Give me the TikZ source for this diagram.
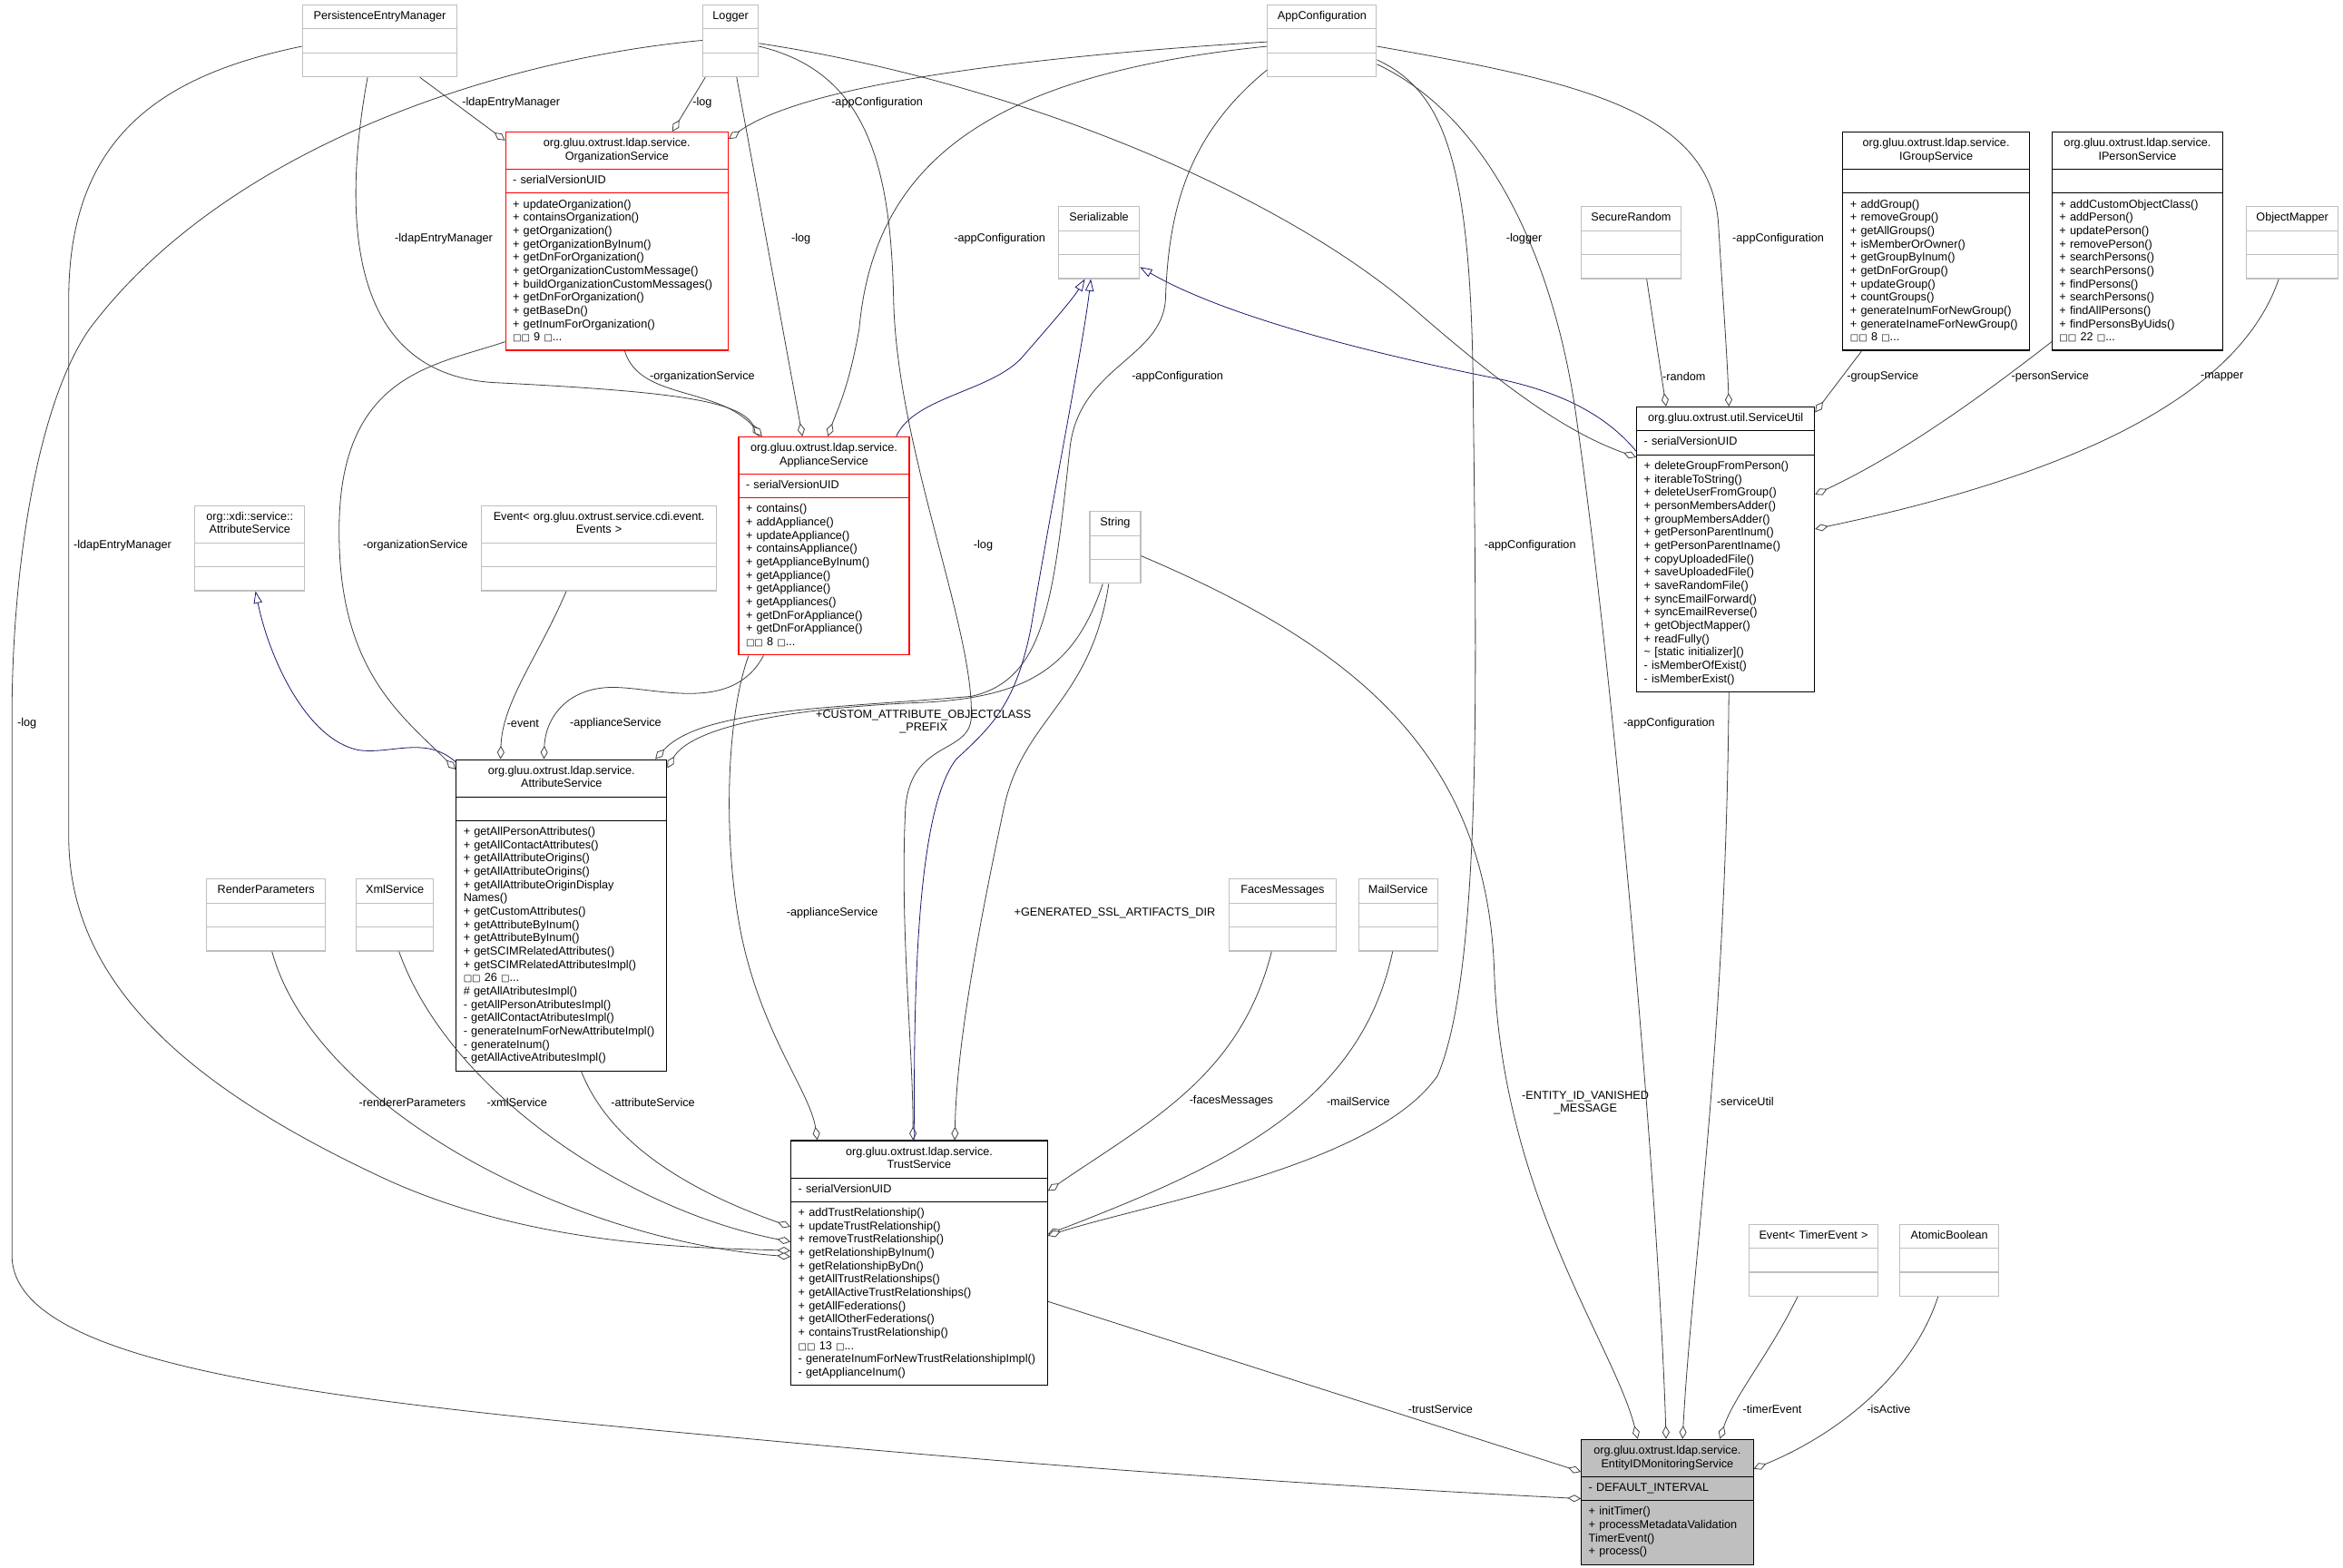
\documentclass[tikz,border=0pt]{standalone}
\usepackage{fontspec}
\setmainfont{Liberation Sans}
\newfontfamily\boxfont{DejaVu Sans}
\usetikzlibrary{shapes.multipart,arrows.meta,calc}
\definecolor{boxgray}{HTML}{BFBFBF}
\definecolor{edgegray}{HTML}{404040}
\definecolor{inhblue}{HTML}{191970}
\definecolor{mainfill}{HTML}{BFBFBF}
\newcommand{\moreitems}[1]{{\boxfont\fontsize{7.5}{11}\selectfont □□} #1 {\boxfont\fontsize{7.5}{11}\selectfont □}...}
\newcommand{\clstitle}[1]{\centering\strut #1\strut\par}
\tikzset{
  umlbase/.style={rectangle split, rectangle split parts=3, anchor=north west,
    inner xsep=6pt, inner ysep=4pt, align=left, line width=0.8pt,
    font=\fontsize{9.5}{11}\selectfont},
  graycls/.style={umlbase, draw=boxgray},
  redcls/.style={umlbase, draw=red},
  blackcls/.style={umlbase, draw=black},
  maincls/.style={umlbase, draw=black, fill=mainfill},
  lbl/.style={font=\fontsize{9.5}{11}\selectfont, inner sep=0pt, align=center},
  agg/.style={draw=edgegray, line width=0.6pt, -{Diamond[fill=white, length=11pt, width=6pt]}},
  inh/.style={draw=inhblue, line width=0.6pt, -{Triangle[fill=white, length=10pt, width=7pt]}}
}
\begin{document}
\begin{tikzpicture}[x=1.235pt,y=-1.235pt]
  \fill[white] (0,0) rectangle (1568,1049);
  \useasboundingbox (0,0) rectangle (1568,1049);

  \node[graycls, text width=116pt] (pem) at (202,3) {\clstitle{PersistenceEntryManager} \nodepart{second}\strut \nodepart{third}\strut};
  \node[graycls, text width=34pt] (logger) at (470,3) {\clstitle{Logger} \nodepart{second}\strut \nodepart{third}\strut};
  \node[graycls, text width=78pt] (appcfg) at (848,3) {\clstitle{AppConfiguration} \nodepart{second}\strut \nodepart{third}\strut};
  \node[redcls, text width=172pt] (org) at (338,88) {\clstitle{org.gluu.oxtrust.ldap.service.\\OrganizationService}
    \nodepart{second}\strut - serialVersionUID\strut
    \nodepart{third}\strut + updateOrganization()\\+ containsOrganization()\\+ getOrganization()\\+ getOrganizationByInum()\\+ getDnForOrganization()\\+ getOrganizationCustomMessage()\\+ buildOrganizationCustomMessages()\\+ getDnForOrganization()\\+ getBaseDn()\\+ getInumForOrganization()\\\moreitems{9}\strut};
  \node[graycls, text width=55pt] (serial) at (708,138) {\clstitle{Serializable} \nodepart{second}\strut \nodepart{third}\strut};
  \node[graycls, text width=70pt] (secrand) at (1058,138) {\clstitle{SecureRandom} \nodepart{second}\strut \nodepart{third}\strut};
  \node[blackcls, text width=142pt] (igroup) at (1233,88) {\clstitle{org.gluu.oxtrust.ldap.service.\\IGroupService}
    \nodepart{second}\strut
    \nodepart{third}\strut + addGroup()\\+ removeGroup()\\+ getAllGroups()\\+ isMemberOrOwner()\\+ getGroupByInum()\\+ getDnForGroup()\\+ updateGroup()\\+ countGroups()\\+ generateInumForNewGroup()\\+ generateInameForNewGroup()\\\moreitems{8}\strut};
  \node[blackcls, text width=129pt] (iperson) at (1373,88) {\clstitle{org.gluu.oxtrust.ldap.service.\\IPersonService}
    \nodepart{second}\strut
    \nodepart{third}\strut + addCustomObjectClass()\\+ addPerson()\\+ updatePerson()\\+ removePerson()\\+ searchPersons()\\+ searchPersons()\\+ findPersons()\\+ searchPersons()\\+ findAllPersons()\\+ findPersonsByUids()\\\moreitems{22}\strut};
  \node[graycls, text width=64pt] (objmap) at (1503,138) {\clstitle{ObjectMapper} \nodepart{second}\strut \nodepart{third}\strut};
  \node[redcls, text width=129pt] (appl) at (494,292) {\clstitle{org.gluu.oxtrust.ldap.service.\\ApplianceService}
    \nodepart{second}\strut - serialVersionUID\strut
    \nodepart{third}\strut + contains()\\+ addAppliance()\\+ updateAppliance()\\+ containsAppliance()\\+ getApplianceByInum()\\+ getAppliance()\\+ getAppliance()\\+ getAppliances()\\+ getDnForAppliance()\\+ getDnForAppliance()\\\moreitems{8}\strut};
  \node[blackcls, text width=135pt] (svcutil) at (1095,272) {\clstitle{org.gluu.oxtrust.util.ServiceUtil}
    \nodepart{second}\strut - serialVersionUID\strut
    \nodepart{third}\strut + deleteGroupFromPerson()\\+ iterableToString()\\+ deleteUserFromGroup()\\+ personMembersAdder()\\+ groupMembersAdder()\\+ getPersonParentInum()\\+ getPersonParentIname()\\+ copyUploadedFile()\\+ saveUploadedFile()\\+ saveRandomFile()\\+ syncEmailForward()\\+ syncEmailReverse()\\+ getObjectMapper()\\+ readFully()\\\textasciitilde{} [static initializer]()\\- isMemberOfExist()\\- isMemberExist()\strut};
  \node[graycls, text width=79pt] (xdi) at (130,338) {\clstitle{org::xdi::service::\\AttributeService} \nodepart{second}\strut \nodepart{third}\strut};
  \node[graycls, text width=182pt] (event) at (322,338) {\clstitle{Event< org.gluu.oxtrust.service.cdi.event.\\Events >} \nodepart{second}\strut \nodepart{third}\strut};
  \node[graycls, text width=30pt] (string) at (729,342) {\clstitle{String} \nodepart{second}\strut \nodepart{third}\strut};
  \node[blackcls, text width=162pt] (attrsvc) at (305,508) {\clstitle{org.gluu.oxtrust.ldap.service.\\AttributeService}
    \nodepart{second}\strut
    \nodepart{third}\strut + getAllPersonAttributes()\\+ getAllContactAttributes()\\+ getAllAttributeOrigins()\\+ getAllAttributeOrigins()\\+ getAllAttributeOriginDisplay\\Names()\\+ getCustomAttributes()\\+ getAttributeByInum()\\+ getAttributeByInum()\\+ getSCIMRelatedAttributes()\\+ getSCIMRelatedAttributesImpl()\\\moreitems{26}\\\# getAllAtributesImpl()\\- getAllPersonAtributesImpl()\\- getAllContactAtributesImpl()\\- generateInumForNewAttributeImpl()\\- generateInum()\\- getAllActiveAtributesImpl()\strut};
  \node[graycls, text width=86pt] (rendp) at (138,588) {\clstitle{RenderParameters} \nodepart{second}\strut \nodepart{third}\strut};
  \node[graycls, text width=52pt] (xmlsvc) at (238,588) {\clstitle{XmlService} \nodepart{second}\strut \nodepart{third}\strut};
  \node[graycls, text width=77pt] (faces) at (822,588) {\clstitle{FacesMessages} \nodepart{second}\strut \nodepart{third}\strut};
  \node[graycls, text width=53pt] (mail) at (909,588) {\clstitle{MailService} \nodepart{second}\strut \nodepart{third}\strut};
  \node[blackcls, text width=200pt] (trust) at (529,763) {\clstitle{org.gluu.oxtrust.ldap.service.\\TrustService}
    \nodepart{second}\strut - serialVersionUID\strut
    \nodepart{third}\strut + addTrustRelationship()\\+ updateTrustRelationship()\\+ removeTrustRelationship()\\+ getRelationshipByInum()\\+ getRelationshipByDn()\\+ getAllTrustRelationships()\\+ getAllActiveTrustRelationships()\\+ getAllFederations()\\+ getAllOtherFederations()\\+ containsTrustRelationship()\\\moreitems{13}\\- generateInumForNewTrustRelationshipImpl()\\- getApplianceInum()\strut};
  \node[graycls, text width=95pt] (timerev) at (1170,819) {\clstitle{Event< TimerEvent >} \nodepart{second}\strut \nodepart{third}\strut};
  \node[graycls, text width=70pt] (atomic) at (1271,819) {\clstitle{AtomicBoolean} \nodepart{second}\strut \nodepart{third}\strut};
  \node[maincls, text width=130pt] (entity) at (1058,963) {\clstitle{org.gluu.oxtrust.ldap.service.\\EntityIDMonitoringService}
    \nodepart{second}\strut - DEFAULT\_INTERVAL\strut
    \nodepart{third}\strut + initTimer()\\+ processMetadataValidation\\TimerEvent()\\+ process()\strut};

  \draw[agg] ($(pem.south west)+(79,0)$) -- ($(org.north west)+(0,6)$);
  \draw[agg] ($(logger.south west)+(2,0)$) -- ($(org.north west)+(112,0)$);
  \draw[agg] ($(appcfg.north west)+(0,25)$) .. controls (700,37) and (540,55) .. ($(org.north east)+(0,5)$);
  \draw[agg] ($(pem.south west)+(44,0)$) .. controls (228,150) and (235,250) .. (330,256) .. controls (450,262) and (495,268) .. ($(appl.north west)+(14,0)$);
  \draw[agg] ($(org.south west)+(80,0)$) .. controls (428,268) and (480,258) .. ($(appl.north west)+(16,0)$);
  \draw[agg] ($(logger.south west)+(23,0)$) -- ($(appl.north west)+(43,0)$);
  \draw[agg] ($(appcfg.north west)+(0,28)$) .. controls (660,50) and (585,110) .. (575,220) .. controls (568,260) and (560,275) .. ($(appl.north west)+(60,0)$);
  \draw[inh] ($(appl.north east)+(-9,0)$) .. controls (612,265) and (665,262) .. (685,238) .. controls (705,215) and (718,200) .. ($(serial.south west)+(18,0)$);
  \draw[inh] ($(svcutil.north west)+(0,30)$) .. controls (1075,278) and (1045,262) .. (1000,253) .. controls (920,237) and (820,212) .. ($(serial.south east)+(0,-8)$);
  \draw[agg] ($(logger.north east)+(0,26)$) .. controls (680,55) and (860,130) .. (950,210) .. controls (1010,262) and (1050,290) .. ($(svcutil.north west)+(0,34)$);
  \draw[agg] ($(appcfg.north east)+(0,28)$) .. controls (1060,55) and (1145,75) .. (1150,150) .. controls (1153,200) and (1156,240) .. ($(svcutil.north west)+(62,0)$);
  \draw[agg] ($(secrand.south west)+(44,0)$) -- ($(svcutil.north west)+(20,0)$);
  \draw[agg] ($(igroup.south west)+(13,0)$) -- ($(svcutil.north east)+(0,4)$);
  \draw[agg] ($(iperson.south west)+(0,-6)$) .. controls (1320,270) and (1270,305) .. ($(svcutil.north east)+(0,59)$);
  \draw[agg] ($(objmap.south west)+(22,0)$) .. controls (1500,260) and (1400,315) .. ($(svcutil.north east)+(0,82)$);
  \draw[inh] ($(attrsvc.north west)+(0,2)$) .. controls (285,492) and (262,505) .. (240,502) .. controls (205,495) and (180,440) .. ($(xdi.south west)+(41,0)$);
  \draw[agg] ($(org.south west)+(0,-6)$) .. controls (290,245) and (225,250) .. (227,360) .. controls (228,450) and (270,480) .. ($(attrsvc.north west)+(0,7)$);
  \draw[agg] ($(event.south west)+(57,0)$) .. controls (360,440) and (336,470) .. ($(attrsvc.north west)+(30,0)$);
  \draw[agg] ($(appl.south west)+(17,0)$) .. controls (490,478) and (440,460) .. (410,460) .. controls (380,460) and (365,480) .. ($(attrsvc.north west)+(59,0)$);
  \draw[agg] ($(string.south west)+(9,0)$) .. controls (720,445) and (690,466) .. (620,470) .. controls (520,474) and (462,488) .. ($(attrsvc.north east)+(0,6)$);
  \draw[agg] ($(appcfg.south west)+(0,-5)$) .. controls (795,90) and (782,140) .. (780,200) .. controls (778,240) and (722,245) .. (716,300) .. controls (705,400) and (700,455) .. (650,466) .. controls (560,474) and (470,474) .. ($(attrsvc.north east)+(-8,0)$);
  \draw[agg] ($(appl.south west)+(7,0)$) .. controls (486,480) and (484,560) .. (495,620) .. controls (508,690) and (542,730) .. ($(trust.north west)+(18,0)$);
  \draw[agg] ($(logger.north east)+(0,28)$) .. controls (580,48) and (596,110) .. (598,200) .. controls (600,300) and (652,420) .. (650,480) .. controls (649,505) and (610,495) .. (606,540) .. controls (602,620) and (611,700) .. ($(trust.north west)+(82,0)$);
  \draw[inh] ($(trust.north west)+(83,0)$) .. controls (611,650) and (615,540) .. (640,508) .. controls (665,485) and (680,470) .. (690,420) .. controls (705,330) and (725,230) .. ($(serial.south west)+(22,0)$);
  \draw[agg] ($(string.south west)+(13,0)$) .. controls (730,470) and (685,480) .. (672,540) .. controls (655,620) and (640,700) .. ($(trust.north west)+(110,0)$);
  \draw[agg] ($(attrsvc.south west)+(84,0)$) .. controls (410,770) and (470,800) .. ($(trust.north west)+(0,58)$);
  \draw[agg] ($(xmlsvc.south west)+(29,0)$) .. controls (300,730) and (420,810) .. ($(trust.north west)+(0,68)$);
  \draw[agg] ($(pem.north west)+(0,28)$) .. controls (110,50) and (46,90) .. (46,200) -- (46,560) .. controls (46,660) and (130,730) .. (260,790) .. controls (360,835) and (470,835) .. ($(trust.north west)+(0,74)$);
  \draw[agg] ($(rendp.south west)+(44,0)$) .. controls (210,740) and (380,830) .. ($(trust.north west)+(0,78)$);
  \draw[agg] ($(faces.south west)+(29,0)$) .. controls (830,720) and (770,750) .. ($(trust.north east)+(0,34)$);
  \draw[agg] ($(mail.south west)+(23,0)$) .. controls (910,740) and (820,780) .. ($(trust.north east)+(0,63)$);
  \draw[agg] ($(appcfg.north east)+(0,37)$) .. controls (968,62) and (985,110) .. (986,273) .. controls (988,450) and (992,650) .. (962,720) .. controls (920,780) and (770,805) .. ($(trust.north east)+(0,64)$);
  \draw[agg] ($(trust.north east)+(0,108)$) -- ($(entity.north west)+(0,22)$);
  \draw[agg] ($(logger.north west)+(0,24)$) .. controls (330,40) and (150,100) .. (60,220) .. controls (25,270) and (8,380) .. (8,480) -- (8,840) .. controls (8,920) and (250,940) .. (546,967) .. controls (800,990) and (1000,1000) .. ($(entity.north west)+(0,40)$);
  \draw[agg] ($(string.north east)+(0,30)$) .. controls (900,430) and (995,500) .. (1000,650) .. controls (1005,800) and (1080,900) .. ($(entity.north west)+(38,0)$);
  \draw[agg] ($(appcfg.north east)+(0,40)$) .. controls (1000,80) and (1040,180) .. (1054,273) .. controls (1080,450) and (1110,800) .. ($(entity.north west)+(57,0)$);
  \draw[agg] ($(svcutil.south west)+(62,0)$) .. controls (1155,700) and (1132,850) .. ($(entity.north west)+(68,0)$);
  \draw[agg] ($(timerev.south west)+(33,0)$) .. controls (1185,905) and (1160,935) .. ($(entity.north west)+(93,0)$);
  \draw[agg] ($(atomic.south west)+(26,0)$) .. controls (1280,920) and (1230,960) .. ($(entity.north east)+(0,20)$);

  \node[lbl] (lpemorg) at (342,69) {-ldapEntryManager};
  \node[lbl] (llogorg) at (470,69) {-log};
  \node[lbl] (lcfgorg) at (587,69) {-appConfiguration};
  \node[lbl] (lpemappl) at (297,160) {-ldapEntryManager};
  \node[lbl] (llogappl) at (536,160) {-log};
  \node[lbl] (lcfgappl) at (669,160) {-appConfiguration};
  \node[lbl] (llogutil) at (1020,160) {-logger};
  \node[lbl] (lcfgutil) at (1190,160) {-appConfiguration};
  \node[lbl] (lorgappl) at (470,252) {-organizationService};
  \node[lbl] (lcfgattr) at (788,252) {-appConfiguration};
  \node[lbl] (lrandutil) at (1127,252) {-random};
  \node[lbl] (lgrputil) at (1260,252) {-groupService};
  \node[lbl] (lperutil) at (1372,252) {-personService};
  \node[lbl] (lmaputil) at (1487,252) {-mapper};
  \node[lbl] (lpemtrust) at (82,365) {-ldapEntryManager};
  \node[lbl] (lorgattr) at (278,365) {-organizationService};
  \node[lbl] (llogtrust) at (658,365) {-log};
  \node[lbl] (lcfgtrust) at (1024,365) {-appConfiguration};
  \node[lbl] (llogent) at (18,484) {-log};
  \node[lbl] (levattr) at (350,484) {-event};
  \node[lbl] (lapplattr) at (412,484) {-applianceService};
  \node[lbl] (lstrattr) at (618,483) {+CUSTOM\_ATTRIBUTE\_OBJECTCLASS\\\_PREFIX};
  \node[lbl] (lcfgent) at (1117,484) {-appConfiguration};
  \node[lbl] (lappltrust) at (557,611) {-applianceService};
  \node[lbl] (lstrtrust) at (746,611) {+GENERATED\_SSL\_ARTIFACTS\_DIR};
  \node[lbl] (lrentrust) at (276,738) {-rendererParameters};
  \node[lbl] (lxmltrust) at (346,738) {-xmlService};
  \node[lbl] (lattrtrust) at (437,738) {-attributeService};
  \node[lbl] (lfactrust) at (824,737) {-facesMessages};
  \node[lbl] (lmailtrust) at (909,737) {-mailService};
  \node[lbl] (lstrent) at (1061,738) {-ENTITY\_ID\_VANISHED\\\_MESSAGE};
  \node[lbl] (lutilent) at (1168,737) {-serviceUtil};
  \node[lbl] (ltrustent) at (964,943) {-trustService};
  \node[lbl] (ltimerent) at (1186,943) {-timerEvent};
  \node[lbl] (lactent) at (1264,943) {-isActive};
\end{tikzpicture}
\end{document}
